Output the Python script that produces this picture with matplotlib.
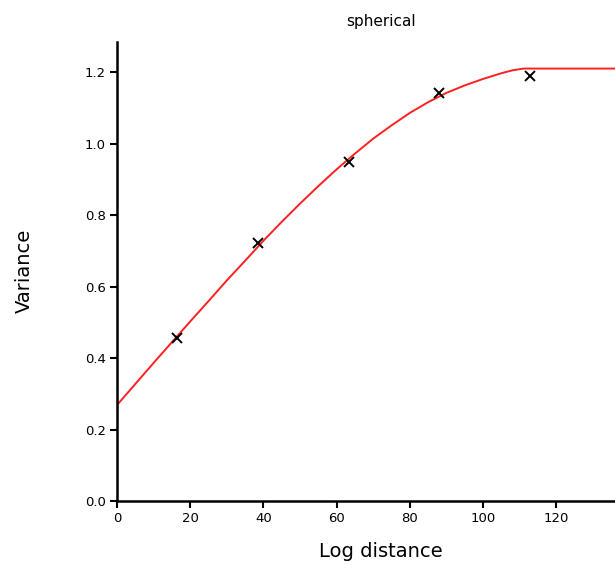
import matplotlib
matplotlib.use("Agg")
import matplotlib.pyplot as plt

# ===============================
# DATA
# ===============================
lag_x = [16.4, 38.5, 63.3, 87.9, 112.7]
lag_var = [0.456, 0.722, 0.948, 1.141, 1.189]

# fitted spherical model
model_x = [0, 5, 10, 15, 20, 25, 30, 35, 40, 45, 50, 55, 60,
           65, 70, 75, 80, 85, 90, 95, 100, 105, 108, 111, 136]
model_var = [0.268, 0.327, 0.386, 0.444, 0.502, 0.559, 0.617, 0.672, 0.728,
             0.781, 0.832, 0.881, 0.928, 0.972, 1.014, 1.051, 1.086, 1.116,
             1.142, 1.163, 1.181, 1.197, 1.205, 1.210, 1.210]

x_ticks = [0, 20, 40, 60, 80, 100, 120]
y_ticks = [0.0, 0.2, 0.4, 0.6, 0.8, 1.0, 1.2]

# ===============================
# PLOT
# ===============================
fig = plt.figure(figsize=(6.15, 5.69), dpi=100)
ax = fig.add_axes([0.190, 0.1195, 0.810, 0.8065])

ax.plot(model_x, model_var, color="#ff2020", lw=1.4)
ax.plot(lag_x, lag_var, "x", color="black", ms=7, mew=1.4)

ax.set_xlim(0, 136)
ax.set_ylim(0, 1.284)
ax.set_xticks(x_ticks)
ax.set_yticks(y_ticks)
ax.set_yticklabels([f"{v:.1f}" for v in y_ticks])

for side in ["top", "right"]:
    ax.spines[side].set_visible(False)
for side in ["left", "bottom"]:
    ax.spines[side].set_linewidth(1.8)
ax.tick_params(direction="out", length=5, width=1.5, labelsize=9.5, pad=3)

fig.text(0.62, 0.963, "spherical", ha="center", va="center", fontsize=11)
fig.text(0.62, 0.030, "Log distance", ha="center", va="center", fontsize=14)
fig.text(0.040, 0.524, "Variance", ha="center", va="center", rotation=90, fontsize=14)

fig.savefig("out.png", dpi=100)
